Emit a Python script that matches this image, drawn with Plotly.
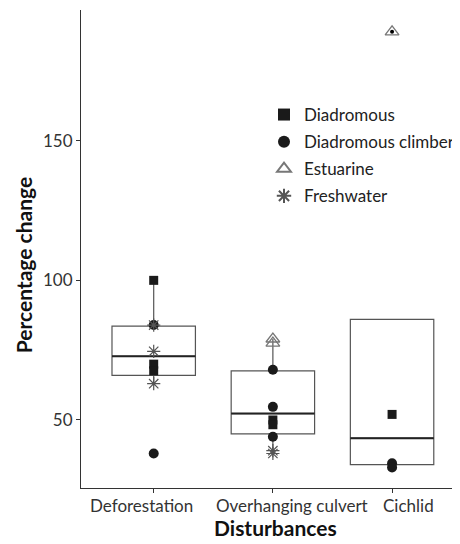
import plotly.graph_objects as go

categories = ["Deforestation", "Overhanging culvert", "Cichlid"]

# box statistics per category
q1 = [66.0, 45.0, 34.0]
median = [72.8, 52.3, 43.5]
q3 = [83.6, 67.6, 86.0]
lowerfence = [63.0, 38.3, 33.0]
upperfence = [100.0, 79.0, 86.0]

# outliers drawn by the boxplot
outlier_cat = ["Deforestation", "Cichlid"]
outlier_val = [38.0, 189.0]

# observations by group
diadromous_cat = ["Deforestation", "Deforestation", "Deforestation", "Overhanging culvert", "Overhanging culvert", "Cichlid"]
diadromous_val = [100.0, 70.0, 67.6, 50.0, 48.3, 52.0]

climber_cat = ["Deforestation", "Deforestation", "Overhanging culvert", "Overhanging culvert", "Overhanging culvert", "Cichlid", "Cichlid"]
climber_val = [84.0, 38.0, 68.0, 54.7, 44.0, 34.5, 33.0]

estuarine_cat = ["Overhanging culvert", "Overhanging culvert", "Cichlid"]
estuarine_val = [79.0, 77.5, 189.0]

freshwater_cat = ["Deforestation", "Deforestation", "Deforestation", "Overhanging culvert", "Overhanging culvert"]
freshwater_val = [84.0, 74.6, 63.0, 39.0, 38.0]

# horizontal offset (in category units) of each tick label as printed
label_shift = [-0.105, 0.16, 0.14]

pos = {c: i for i, c in enumerate(categories)}
BW = 0.7
FONT = "Lato"

fig = go.Figure()

fig.add_trace(go.Box(
    x=list(range(len(categories))), q1=q1, median=median, q3=q3,
    lowerfence=lowerfence, upperfence=upperfence,
    boxpoints=False, width=BW, whiskerwidth=0,
    fillcolor="rgba(255,255,255,0)",
    line=dict(color="#555555", width=1.2),
    showlegend=False, hoverinfo="skip",
))

# median lines drawn thicker
for i, m in enumerate(median):
    fig.add_trace(go.Scatter(
        x=[i - BW / 2, i + BW / 2], y=[m, m], mode="lines",
        line=dict(color="#222222", width=2), showlegend=False, hoverinfo="skip",
    ))

fig.add_trace(go.Scatter(
    x=[pos[c] for c in outlier_cat], y=outlier_val, mode="markers",
    marker=dict(color="black", size=4), showlegend=False, hoverinfo="skip",
))

fig.add_trace(go.Scatter(
    x=[pos[c] for c in diadromous_cat], y=diadromous_val, mode="markers",
    name="Diadromous", legendgroup="a",
    marker=dict(symbol="square", color="#1a1a1a", size=9),
))
fig.add_trace(go.Scatter(
    x=[pos[c] for c in climber_cat], y=climber_val, mode="markers",
    name="Diadromous climber", legendgroup="b",
    marker=dict(symbol="circle", color="#1a1a1a", size=10),
))
fig.add_trace(go.Scatter(
    x=[pos[c] for c in estuarine_cat], y=estuarine_val, mode="markers",
    name="Estuarine", legendgroup="c",
    marker=dict(symbol="triangle-up-open", color="#777777", size=12,
                line=dict(width=1.3, color="#777777")),
))
fig.add_trace(go.Scatter(
    x=[pos[c] for c in freshwater_cat], y=freshwater_val, mode="markers",
    name="Freshwater", legendgroup="d",
    marker=dict(symbol="asterisk-open", color="#555555", size=11,
                line=dict(width=1.2, color="#555555")),
))

annotations = [
    dict(text="<b>Percentage change</b>", xref="paper", yref="paper",
         x=-0.153, y=0.466, xanchor="center", yanchor="middle", textangle=-90,
         showarrow=False, font=dict(size=21, color="#111111")),
    dict(text="<b>Disturbances</b>", xref="paper", yref="paper",
         x=0.513, y=-0.083, xanchor="center", yanchor="middle",
         showarrow=False, font=dict(size=21, color="#111111")),
]
for i, (c, s) in enumerate(zip(categories, label_shift)):
    annotations.append(dict(
        text=c, xref="x", yref="paper", x=i + s, y=-0.036,
        xanchor="center", yanchor="middle", showarrow=False,
        font=dict(size=17, color="#333333"),
    ))

fig.update_layout(
    width=452, height=536,
    margin=dict(l=73, r=0, t=2, b=56),
    plot_bgcolor="white", paper_bgcolor="white",
    font=dict(family=FONT, size=17, color="#333333"),
    legend=dict(x=1.0, y=0.818, xanchor="right", yanchor="top",
                bgcolor="rgba(0,0,0,0)", font=dict(size=17, color="#222222"),
                itemsizing="constant", tracegroupgap=2),
    xaxis=dict(
        range=[-0.61, 2.57], tickmode="array",
        tickvals=list(range(len(categories))), showticklabels=False,
        showgrid=False, zeroline=False, showline=True, linecolor="#333333", linewidth=1,
        ticks="outside", ticklen=4, tickcolor="#333333", automargin=False,
    ),
    yaxis=dict(
        range=[25.65, 196.8], tickvals=[50, 100, 150],
        showgrid=False, zeroline=False, showline=True, linecolor="#333333", linewidth=1,
        ticks="outside", ticklen=4, tickcolor="#333333",
        tickfont=dict(size=17, color="#333333"), automargin=False,
    ),
    annotations=annotations,
)

fig.write_html("out.html")
